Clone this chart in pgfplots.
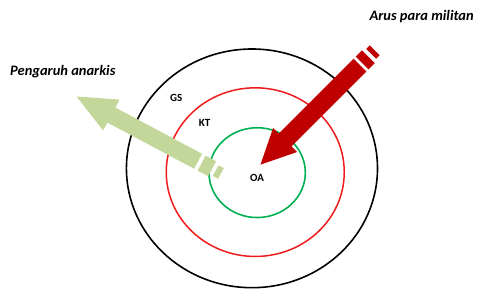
\documentclass[border=0pt]{standalone}
\usepackage{pgfplots}
\pgfplotsset{compat=1.18}
\usepackage{fontspec}
\setmainfont{Carlito}
\definecolor{arrowred}{HTML}{C00000}
\definecolor{arrowgreen}{HTML}{C4D79B}
\definecolor{ringred}{HTML}{EE1C1C}
\definecolor{ringgreen}{HTML}{00B050}
\begin{document}
\begin{tikzpicture}
\begin{axis}[
  scale only axis, width=477pt, height=289pt,
  xmin=0, xmax=477, ymin=0, ymax=289,
  y dir=reverse, hide axis, clip=false]
\addplot[draw=none] coordinates {(0,0) (477,289)};
% rings
\draw[black, line width=1.6pt] (axis cs:252.5,168.7) ellipse [x radius=125.8, y radius=119.6];
\draw[ringred, line width=1.5pt] (axis cs:255.8,172.5) ellipse [x radius=89.2, y radius=84.5];
\draw[ringgreen, line width=1.6pt] (axis cs:257.7,173) ellipse [x radius=48.3, y radius=45];
% red arrow (Arus para militan)
\addplot[fill=arrowred, draw=none] coordinates {
 (261,165) (297.8,152.3) (292.1,146.6) (367.1,71.7) (354.3,58.9)
 (279.4,133.9) (273.7,128.2) (261,165)} -- cycle;
\addplot[fill=arrowred, draw=none] coordinates {
 (369.2,69.5) (375.6,63.2) (362.8,50.5) (356.5,56.8)} -- cycle;
\addplot[fill=arrowred, draw=none] coordinates {
 (377.0,58.9) (380.5,55.4) (370.6,45.5) (367.1,49.0)} -- cycle;
% green arrow (Pengaruh anarkis)
\addplot[fill=arrowgreen, draw=none] coordinates {
 (76.7,96.7) (103.3,130.7) (107.6,122.8) (194.5,169.1) (202.5,154.1)
 (115.6,107.8) (119.8,99.8) (76.7,96.7)} -- cycle;
\addplot[fill=arrowgreen, draw=none] coordinates {
 (198.0,171.0) (208.6,176.6) (216.6,161.6) (206.0,156.0)} -- cycle;
\addplot[fill=arrowgreen, draw=none] coordinates {
 (213.3,176.3) (218.6,179.1) (224.3,168.5) (219.0,165.7)} -- cycle;
% labels
\node[font=\fontsize{14.5}{16}\selectfont\bfseries\itshape, anchor=base] at (axis cs:63,75.5) {Pengaruh anarkis};
\node[font=\fontsize{14.5}{16}\selectfont\bfseries\itshape, anchor=base] at (axis cs:422.5,20.5) {Arus para militan};
\node[font=\fontsize{11}{13}\selectfont\bfseries] at (axis cs:176.7,98.3) {GS};
\node[font=\fontsize{11}{13}\selectfont\bfseries] at (axis cs:205,123.3) {KT};
\node[font=\fontsize{11}{13}\selectfont\bfseries] at (axis cs:257.7,178.3) {OA};
\end{axis}
\end{tikzpicture}
\end{document}
